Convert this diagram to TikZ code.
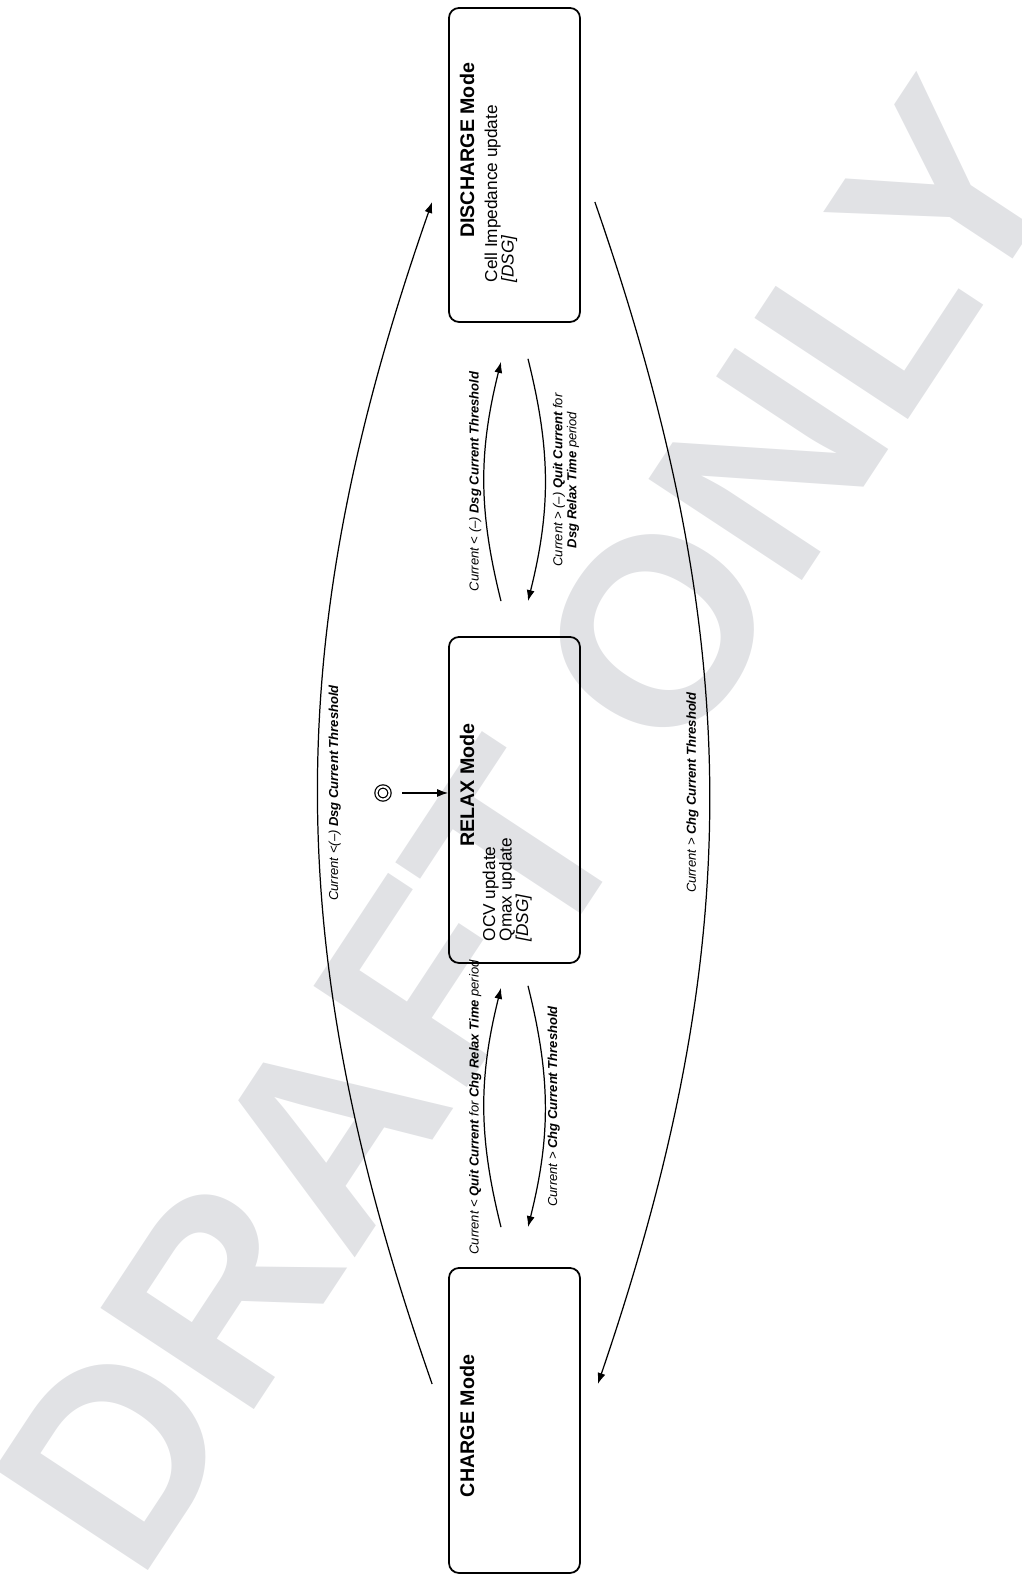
\documentclass[tikz,border=0pt]{standalone}
\usepackage{fontspec}
\setmainfont{Liberation Sans}
\usetikzlibrary{arrows.meta,calc}
\definecolor{wmgray}{RGB}{225,226,229}
\tikzset{
  modebox/.style={draw,rounded corners=1mm,minimum height=1.31cm,line width=0.5pt},
  modetitle/.style={inner sep=0pt,font=\fontsize{5.6}{6}\selectfont\bfseries},
  modetext/.style={inner sep=0pt,align=left,anchor=north west,font=\fontsize{4.9}{4.7}\selectfont},
  trans/.style={inner sep=0.6pt,align=center,font=\fontsize{3.7}{4}\selectfont\itshape},
}

\begin{document}
\begin{tikzpicture}[rotate=90,transform shape,line width=0.35pt,>={Latex[length=1.1mm,width=0.8mm]}]
\useasboundingbox (0,0) rectangle (15.77,10.21);
\node[text=wmgray,rotate=-33.4,font=\fontsize{76}{76}\selectfont\bfseries] (wm) at (7.50,4.92) {DRAFT ONLY};

\node[modebox,minimum width=3.05cm] (chg) at (1.565,5.065) {};
\node[modebox,minimum width=3.26cm] (rlx) at (7.77,5.065) {};
\node[modebox,minimum width=3.14cm] (dsg) at (14.12,5.065) {};

\node[modetitle] (chgT) at (1.51,5.54) {CHARGE Mode};
\node[modetitle] (rlxT) at (7.92,5.54) {RELAX Mode};
\node[modetitle] (dsgT) at (14.265,5.54) {DISCHARGE Mode};
\node[modetext] (rlxB) at (6.35,5.39) {OCV update\\Qmax update\\\textit{[DSG]}};
\node[modetext] (dsgB) at (12.94,5.37) {Cell Impedance update\\\textit{[DSG]}};

\node[draw,circle,double,double distance=0.2mm,inner sep=0pt,minimum size=1.3mm] (init) at (7.84,6.38) {};
\draw[->,shorten <=1.2mm] (init) -- (init |- rlx.north);

\draw[->] ($(chg.east)+(0.40,0.135)$) to[bend left=14]
  node[midway,above,trans] (l1) {Current < \textbf{Quit Current} for \textbf{Chg Relax Time} period}
  ($(rlx.west)+(-0.24,0.135)$);
\draw[->] ($(rlx.west)+(-0.22,-0.135)$) to[bend left=14]
  node[midway,below,trans] (l2) {Current > \textbf{Chg Current Threshold}}
  ($(chg.east)+(0.40,-0.135)$);
\draw[->] ($(rlx.east)+(0.35,0.135)$) to[bend left=14]
  node[midway,above,trans] (l3) {Current < (--) \textbf{Dsg Current Threshold}}
  ($(dsg.west)+(-0.39,0.135)$);
\draw[->] ($(dsg.west)+(-0.36,-0.135)$) to[bend left=14]
  node[midway,below=0.5mm,trans] (l4) {Current > (--) \textbf{Quit Current} for\\\textbf{Dsg Relax Time} period}
  ($(rlx.east)+(0.35,-0.135)$);

\draw[->] ($(chg.north)+(0.365,0.16)$) to[bend left=19.3]
  node[midway,below=0.8mm,trans] (l5) {Current <(--) \textbf{Dsg Current Threshold}}
  ($(dsg.north)+(-0.37,0.16)$);
\draw[->] ($(dsg.south)+(-0.37,-0.14)$) to[bend left=19]
  node[midway,above=0.8mm,trans] (l6) {Current > \textbf{Chg Current Threshold}}
  ($(chg.south)+(0.365,-0.17)$);
\end{tikzpicture}
\end{document}
